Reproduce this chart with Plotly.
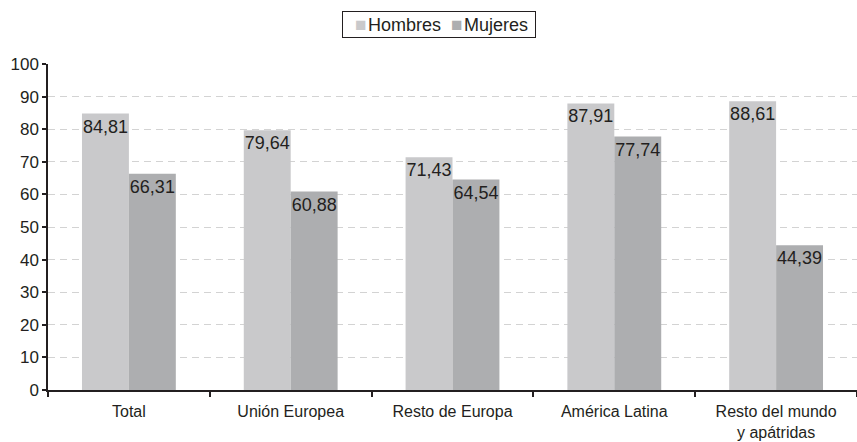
import plotly.graph_objects as go

categories = ["Total", "Unión Europea", "Resto de Europa", "América Latina", "Resto del mundo<br>y apátridas"]
series_names = ["Hombres", "Mujeres"]
hombres = [84.81, 79.64, 71.43, 87.91, 88.61]
mujeres = [66.31, 60.88, 64.54, 77.74, 44.39]
y_ticks = [0, 10, 20, 30, 40, 50, 60, 70, 80, 90, 100]

colors = ["#c9c9cb", "#adaeb0"]
txt = "#231f20"
font_family = "Liberation Sans, Arial, sans-serif"

fig = go.Figure()
for name, vals, col in zip(series_names, [hombres, mujeres], colors):
    fig.add_trace(go.Bar(
        x=categories, y=vals, name=name,
        marker=dict(color=col, line=dict(width=0)),
        texttemplate="%{y:.2f}", textposition="inside", insidetextanchor="end",
        textangle=0, constraintext="none", cliponaxis=False,
        textfont=dict(color=txt, size=18, family=font_family),
        showlegend=False,
    ))

legend_text = "&nbsp;&nbsp;" + "".join(
    f"<span style='color:{c};font-size:19px'>■</span>&#8202;{n}" + ("&nbsp;&nbsp;" if i == 0 else "&nbsp;")
    for i, (n, c) in enumerate(zip(series_names, colors))
)

fig.update_layout(
    width=857, height=442,
    margin=dict(l=48, r=0, t=64, b=52),
    paper_bgcolor="white", plot_bgcolor="white",
    barmode="group", bargap=0.42, bargroupgap=0,
    separators=",.",
    font=dict(family=font_family, color=txt, size=16),
    annotations=[dict(
        text=legend_text, xref="paper", yref="paper",
        x=0.4827, y=1.121, xanchor="center", yanchor="middle",
        showarrow=False, bordercolor="#231f20", borderwidth=1, borderpad=2,
        font=dict(size=18, color=txt, family=font_family),
    )],
)
fig.update_yaxes(
    range=[0, 100], tickvals=y_ticks, showgrid=True, gridcolor="#d3d3d3",
    griddash="7px,5px", gridwidth=1, zeroline=False, automargin=False,
    showline=True, linecolor=txt, linewidth=1.5,
    ticks="outside", ticklen=4, tickcolor=txt, tickwidth=1.5,
    tickfont=dict(size=17, color=txt),
)
fig.update_xaxes(
    showline=True, linecolor=txt, linewidth=1.5, automargin=False,
    ticks="outside", tickson="boundaries", ticklen=5, tickcolor=txt, tickwidth=1.5,
    ticklabelstandoff=6,
    tickfont=dict(size=16, color=txt),
)
fig.write_html("out.html", config={"displayModeBar": False},
               post_script="document.body.style.margin='0px';")
